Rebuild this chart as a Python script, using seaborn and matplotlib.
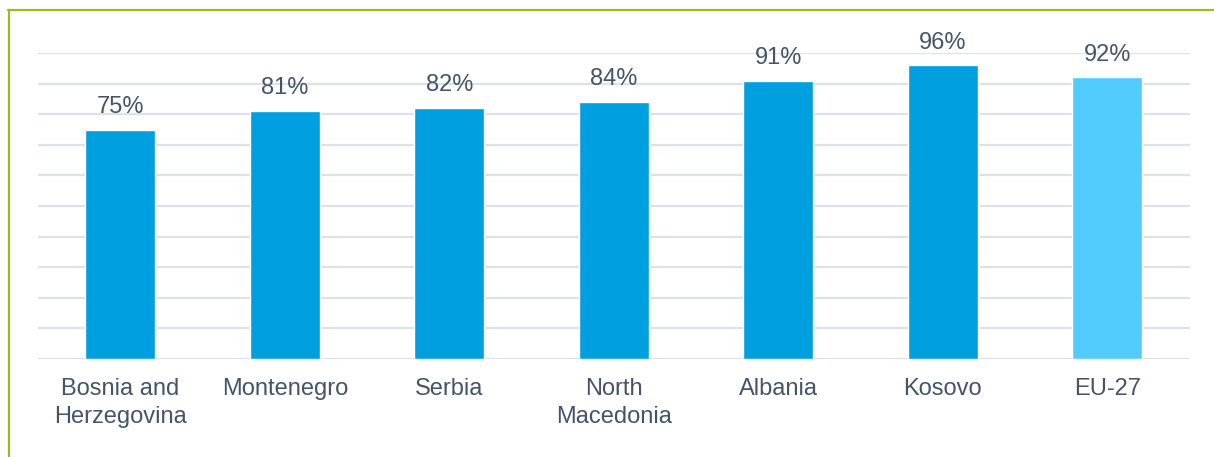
import matplotlib.pyplot as plt
import matplotlib.lines as mlines
import pandas as pd
import seaborn as sns

# Data
countries = ['Bosnia and\nHerzegovina', 'Montenegro', 'Serbia', 'North\nMacedonia',
             'Albania', 'Kosovo', 'EU-27']
shares = [0.75, 0.81, 0.82, 0.84, 0.91, 0.96, 0.92]
bar_colors = ['#009FDF'] * 6 + ['#52CBFF']

df = pd.DataFrame({'country': countries, 'share': shares})

sns.set_style('white')
plt.rcParams['font.family'] = ['Liberation Sans', 'DejaVu Sans']

text_color = '#44546A'
grid_color = '#DDE2E6'

fig = plt.figure(figsize=(12.14, 4.57), dpi=100)
ax = fig.add_axes([0.0313, 0.2144, 0.9487, 0.6696])

sns.barplot(data=df, x='country', y='share', hue='country', palette=bar_colors,
            legend=False, width=0.425, saturation=1, ax=ax)

ax.set_ylim(0, 1.0)
ax.set_yticks([i / 10 for i in range(11)])
ax.yaxis.grid(True, color=grid_color, linewidth=1.6)
ax.set_axisbelow(True)
ax.tick_params(axis='y', left=False, labelleft=False)
ax.tick_params(axis='x', bottom=False, pad=10, labelsize=17, labelcolor=text_color)
for lbl in ax.get_xticklabels():
    lbl.set_linespacing(1.35)
for s in ax.spines.values():
    s.set_visible(False)
ax.set_xlabel('')
ax.set_ylabel('')

# value labels
for i, v in enumerate(shares):
    ax.annotate(f'{round(v * 100)}%', xy=(i, v), xytext=(0, 12), textcoords='offset points',
                ha='center', va='baseline', fontsize=17, color=text_color,
                annotation_clip=False)

# green frame (left and top)
frame_color = '#9BBB1F'
fig.add_artist(mlines.Line2D([9 / 1214, 9 / 1214], [0, 1 - 9.5 / 457],
                             color=frame_color, linewidth=1.6, transform=fig.transFigure))
fig.add_artist(mlines.Line2D([8 / 1214, 1], [1 - 9.5 / 457, 1 - 9.5 / 457],
                             color=frame_color, linewidth=1.6, transform=fig.transFigure))

fig.savefig('out.png', dpi=100)
